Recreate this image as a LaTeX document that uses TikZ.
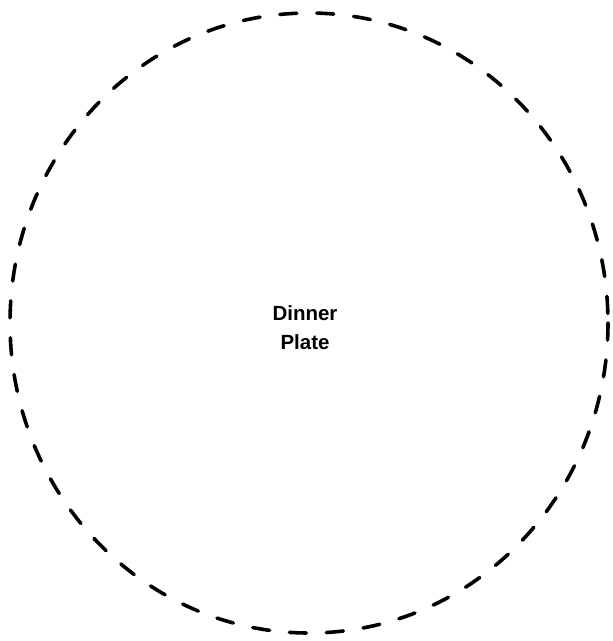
\documentclass[tikz,border=0pt]{standalone}
\usepackage{fontspec}
\setmainfont{Liberation Sans}
\begin{document}
\begin{tikzpicture}[x=1pt,y=-1pt,
  platerim/.style={draw=black, line width=3.6pt, dash pattern=on 17pt off 20pt, line cap=round},
  platelabel/.style={align=center, font=\bfseries\fontsize{20.5}{29}\selectfont, inner sep=0pt}]
\useasboundingbox (0,0) rectangle (613,641);
\node[platelabel] (label) at (305,328) {Dinner\\Plate};
\draw[platerim] (309,323) ellipse [x radius=299, y radius=310];
\end{tikzpicture}
\end{document}
